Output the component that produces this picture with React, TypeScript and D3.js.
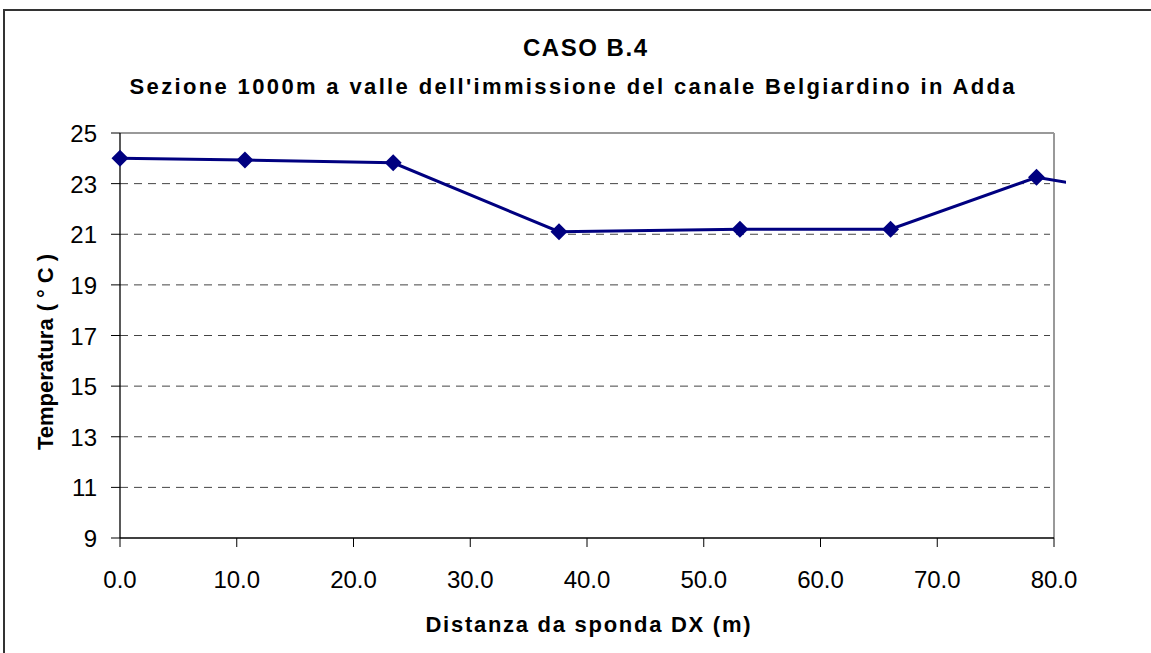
import React from "react";
import * as d3 from "d3";

const distances = [0, 10.7, 23.4, 37.6, 53.1, 66.0, 78.5, 91.0];
const temperatures = [24.0, 23.93, 23.82, 21.1, 21.2, 21.2, 23.25, 22.3];
const yTicks = [9, 11, 13, 15, 17, 19, 21, 23, 25];
const xTicks = [0, 10, 20, 30, 40, 50, 60, 70, 80];
const title = "CASO B.4";
const subtitle = "Sezione 1000m a valle dell'immissione del canale Belgiardino in Adda";
const xLabel = "Distanza da sponda DX (m)";
const yLabelMain = "Temperatura";
const yLabelUnit = "(°C)";

const W = 1151;
const H = 653;
const left = 120;
const right = 1054;
const top = 133;
const bottom = 538;

export default function App() {
  const x = d3.scaleLinear().domain([0, 80]).range([left, right]);
  const y = d3.scaleLinear().domain([9, 25]).range([bottom, top]);
  const pts: [number, number][] = distances.map((d, i) => [x(d), y(temperatures[i])]);
  const line = d3.line()(pts) || "";
  const font = "'Liberation Sans', Arial, sans-serif";
  const diamond = (cx: number, cy: number, r: number) =>
    `M${cx},${cy - r}L${cx + r},${cy}L${cx},${cy + r}L${cx - r},${cy}Z`;

  return (
    <svg width={W} height={H} style={{ position: "absolute", left: 0, top: 0 }} fontFamily={font}>
      <rect x={0} y={0} width={W} height={H} fill="#fff" />
      <rect x={4} y={10} width={1200} height={700} fill="none" stroke="#333" strokeWidth={2} />
      <defs>
        <clipPath id="lc">
          <rect x={0} y={0} width={1066} height={H} />
        </clipPath>
      </defs>
      <text x={585} y={56} textAnchor="middle" fontSize={24} fontWeight="bold" textLength={124} lengthAdjust="spacing">{title}</text>
      <text x={572} y={94} textAnchor="middle" fontSize={22} fontWeight="bold" textLength={885} lengthAdjust="spacing">{subtitle}</text>

      {/* gridlines */}
      {yTicks.filter((t) => t !== 9 && t !== 25).map((t) => (
        <line key={t} x1={left} x2={right - 4} y1={y(t)} y2={y(t)} stroke="#444" strokeWidth={1} strokeDasharray="8,6" />
      ))}
      {/* plot border top/right */}
      <line x1={left} x2={right} y1={top} y2={top} stroke="#999" strokeWidth={2} />
      <line x1={right} x2={right} y1={top} y2={bottom} stroke="#999" strokeWidth={2} />
      {/* axes */}
      <line x1={left} x2={left} y1={top} y2={bottom} stroke="#000" strokeWidth={1.3} />
      <line x1={left} x2={right} y1={bottom} y2={bottom} stroke="#000" strokeWidth={1.3} />
      {yTicks.map((t) => (
        <g key={t}>
          <line x1={left - 9} x2={left} y1={y(t)} y2={y(t)} stroke="#000" strokeWidth={1} />
          <text x={97} y={y(t) + 9} textAnchor="end" fontSize={24}>{t}</text>
        </g>
      ))}
      {xTicks.map((t) => (
        <g key={t}>
          <line x1={x(t)} x2={x(t)} y1={bottom} y2={bottom + 9} stroke="#000" strokeWidth={1} />
          <text x={x(t)} y={588} textAnchor="middle" fontSize={24}>{t.toFixed(1)}</text>
        </g>
      ))}
      <text x={588} y={632} textAnchor="middle" fontSize={22} fontWeight="bold" textLength={325} lengthAdjust="spacing">{xLabel}</text>
      <text transform={`translate(53,450) rotate(-90)`} textAnchor="start" fontSize={22} fontWeight="bold">
        {yLabelMain}
        <tspan dx={7} letterSpacing={6}>{yLabelUnit}</tspan>
      </text>

      <g clipPath="url(#lc)">
        <path d={line} fill="none" stroke="#000080" strokeWidth={3} />
        {pts.map(([cx, cy], i) => (
          <path key={i} d={diamond(cx, cy, 8.5)} fill="#000080" />
        ))}
      </g>
    </svg>
  );
}
